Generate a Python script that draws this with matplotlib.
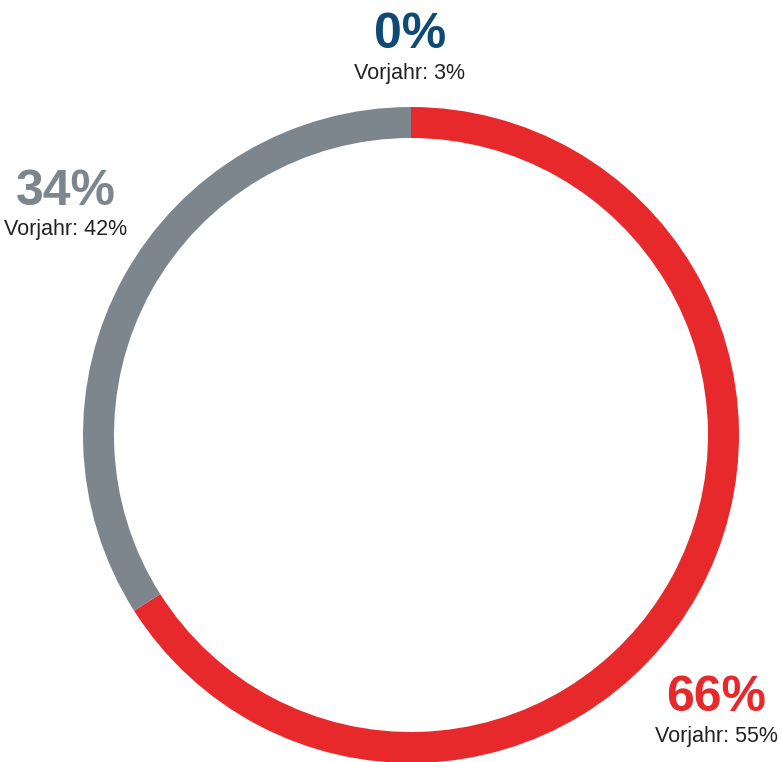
import matplotlib
matplotlib.use("Agg")
import matplotlib.pyplot as plt

# Share of each group, current year and previous year (percent)
groups = ["Rot", "Grau", "Blau"]
shares = [66, 34, 0]
prev_shares = [55, 42, 3]
colors = ["#e8292c", "#7e868d", "#0f4a74"]

W, H = 781, 762
fig = plt.figure(figsize=(W / 100, H / 100), dpi=100)
ax = fig.add_axes([0, 0, 1, 1])

cx, cy = 411, H - 435
outer_r, ring_w = 328, 31

ax.pie(shares, colors=colors, startangle=90, counterclock=False,
       radius=outer_r, center=(cx, cy),
       wedgeprops=dict(width=ring_w, linewidth=0))

ax.set_xlim(0, W)
ax.set_ylim(0, H)
ax.set_aspect("equal")
ax.axis("off")

font = "Liberation Sans"
# (x, baseline of big value, baseline of previous-year line) in pixels from top
label_pos = [(716, 711, 742), (66, 205, 235), (410, 48, 79)]
for share, prev, col, (x, y1, y2) in zip(shares, prev_shares, colors, label_pos):
    ax.text(x, H - y1, f"{share}%", ha="center", va="baseline", color=col,
            fontsize=36, fontweight="bold", family=font)
    ax.text(x, H - y2, f"Vorjahr: {prev}%", ha="center", va="baseline",
            color="#222222", fontsize=15.5, family=font)

fig.savefig("out.png", dpi=100)
